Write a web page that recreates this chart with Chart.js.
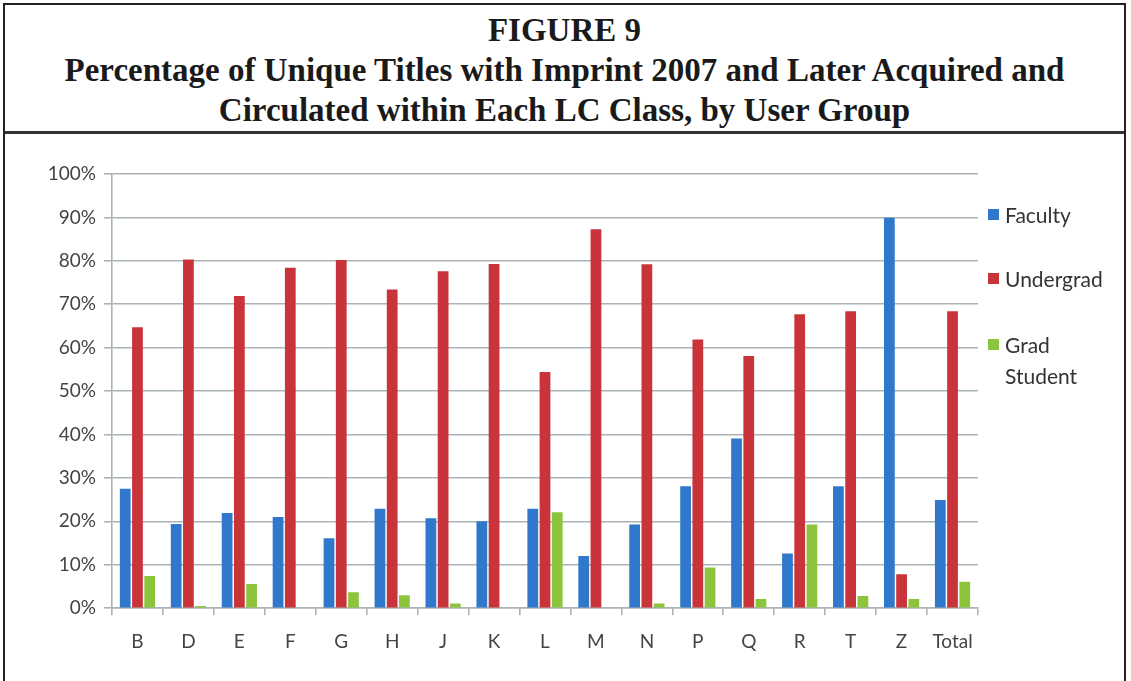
<!DOCTYPE html>
<html>
<head>
<meta charset="utf-8">
<script src="https://cdn.jsdelivr.net/npm/chart.js@4/dist/chart.umd.min.js"></script>
<style>
    html, body { margin: 0; padding: 0; background: #fff; }
    #figure {
        position: absolute; left: 3px; top: 3px; width: 1123px; height: 690px;
        border: 2px solid #222; box-sizing: border-box;
    }
    #heading {
        height: 129px; border-bottom: 3px solid #333; box-sizing: border-box;
        font-family: "Liberation Serif", "DejaVu Serif", serif; font-weight: bold;
        font-size: 33px; line-height: 40px; text-align: center; color: #1a1a1a;
        padding-top: 5px;
    }
    #chartBox { position: absolute; left: 0; top: 129px; width: 1119px; height: 548px; }
    #legend {
        position: absolute; left: 985px; top: 199px; margin: 0; padding: 0; list-style: none;
        font-family: Lato, "Open Sans", sans-serif; font-size: 21px; color: #333;
    }
    #legend li { position: relative; padding-left: 20px; line-height: 31px; width: 110px; }
    #legend li span {
        position: absolute; left: 3px; top: 10px; width: 11px; height: 11px;
    }
</style>
</head>
<body>
<div id="figure">
    <div id="heading">FIGURE 9<br>Percentage of Unique Titles with Imprint 2007 and Later Acquired and<br>Circulated within Each LC Class, by User Group</div>
    <div id="chartBox"><canvas id="myChart"></canvas></div>
</div>
<ul id="legend"></ul>

<script>
// Datos
const classes = ['B', 'D', 'E', 'F', 'G', 'H', 'J', 'K', 'L', 'M', 'N', 'P', 'Q', 'R', 'T', 'Z', 'Total'];
const faculty = [27.5, 19.4, 21.9, 21.0, 16.1, 22.9, 20.7, 20.0, 22.9, 12.0, 19.3, 28.1, 39.1, 12.6, 28.1, 89.9, 24.9];
const undergrad = [64.7, 80.3, 71.9, 78.4, 80.2, 73.4, 77.6, 79.3, 54.4, 87.3, 79.2, 61.9, 58.1, 67.7, 68.4, 7.8, 68.4];
const gradStudent = [7.4, 0.5, 5.6, 0, 3.7, 3.0, 1.1, 0, 22.1, 0, 1.1, 9.4, 2.1, 19.3, 2.8, 2.1, 6.1];
const seriesNames = ['Faculty', 'Undergrad', 'Grad Student'];
const seriesColors = ['#2f78cc', '#c9343a', '#8cc43c'];
const yTicks = [0, 10, 20, 30, 40, 50, 60, 70, 80, 90, 100];

const ctx = document.querySelector('#myChart');
const legendList = document.querySelector('#legend');
const tickFont = { family: 'Lato, "Open Sans", sans-serif', size: 19 };
const gridColor = '#aab3b5';

const chart = new Chart(ctx, {
    type: 'bar',
    data: {
        labels: classes,
        datasets: [faculty, undergrad, gradStudent].map((values, i) => ({
            label: seriesNames[i],
            data: values,
            backgroundColor: seriesColors[i],
            categoryPercentage: 0.72,
            barPercentage: 0.88
        }))
    },
    options: {
        responsive: true,
        maintainAspectRatio: false,
        animation: false,
        layout: { padding: { left: 20, right: 146, top: 40, bottom: 14 } },
        plugins: {
            legend: { display: false },
            tooltip: { enabled: false }
        },
        scales: {
            y: {
                min: 0,
                max: 100,
                afterFit: (scale) => { scale.width = 87; },
                afterBuildTicks: (scale) => { scale.ticks = yTicks.map(v => ({ value: v })); },
                ticks: {
                    callback: (v) => v + '%',
                    font: tickFont,
                    color: '#444',
                    padding: 8
                },
                grid: { color: gridColor, lineWidth: 1.6, tickLength: 8 },
                border: { color: gridColor, width: 1.6 }
            },
            x: {
                ticks: { font: tickFont, color: '#444', padding: 15 },
                grid: { drawOnChartArea: false, offset: true, tickLength: 7, color: gridColor, lineWidth: 1.6 },
                border: { color: gridColor, width: 1.6 }
            }
        }
    }
});

// Leyenda en HTML para poder partir "Grad Student" en dos líneas
const legendGaps = [0, 33, 35];
chart.data.datasets.forEach((ds, i) => {
    const li = document.createElement('li');
    li.style.marginTop = legendGaps[i] + 'px';
    const box = document.createElement('span');
    box.style.background = ds.backgroundColor;
    li.appendChild(box);
    li.appendChild(document.createTextNode(ds.label));
    if (i === 2) li.style.width = '75px';
    legendList.appendChild(li);
});
</script>
</body>
</html>
